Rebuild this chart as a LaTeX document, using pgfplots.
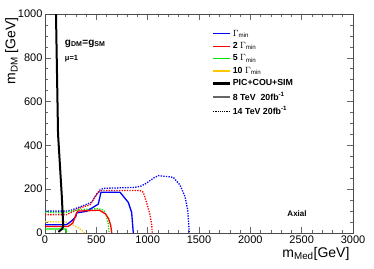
\documentclass[border=0pt]{standalone}
\usepackage{fontspec}
\setmainfont{Liberation Sans}
\usepackage{pgfplots}
\pgfplotsset{compat=1.18}
\definecolor{myyellow}{RGB}{255,200,0}
\definecolor{mygreen}{RGB}{0,230,0}
\begin{document}
\begin{tikzpicture}
\path[use as bounding box] (-45pt,-35pt) rectangle (329pt,233pt);
\begin{axis}[
  at={(0pt,0pt)}, anchor=origin,
  scale only axis, width=308pt, height=219pt,
  xmin=0, xmax=3000, ymin=0, ymax=1000,
  xtick={0,500,...,3000}, ytick={0,200,...,1000},
  minor x tick num=4, minor y tick num=3,
  tick align=inside,
  major tick length=6pt, minor tick length=3pt,
  axis line style={black!70, line width=0.8pt},
  every tick/.style={black!60, line width=0.6pt},
  tick pos=both,
  /pgf/number format/assume math mode=true,
  /pgf/number format/1000 sep={},
  tick label style={font=\fontsize{11}{12}\selectfont},
  xticklabel style={yshift=1pt},
  yticklabel style={xshift=1pt},
  xlabel={m\textsubscript{Med}[GeV]},
  ylabel={m\textsubscript{DM} [GeV]},
  label style={font=\fontsize{14}{15}\selectfont},
  xlabel style={at={(axis description cs:1,0)}, anchor=north east, yshift=-11pt},
  ylabel style={at={(axis description cs:-0.075,1)}, anchor=south east},
  legend style={at={(axis description cs:0.542,0.935)}, anchor=north west, draw=none, fill=none,
     font=\fontsize{8.8}{9.5}\selectfont\bfseries, row sep=1.8pt, inner sep=0pt,
     nodes={inner sep=1.5pt}},
  legend cell align=left,
  legend image code/.code={\draw[#1] plot coordinates {(0pt,0pt) (17pt,0pt)};},
]
% legend entries
\addlegendimage{color=blue, line width=1.4pt}
\addlegendentry{$\Gamma_{\mathrm{min}}$}
\addlegendimage{color=red, line width=1.4pt}
\addlegendentry{2 $\Gamma_{\mathrm{min}}$}
\addlegendimage{color=mygreen, line width=1.4pt}
\addlegendentry{5 $\Gamma_{\mathrm{min}}$}
\addlegendimage{color=myyellow, line width=1.4pt}
\addlegendentry{10 $\Gamma_{\mathrm{min}}$}
\addlegendimage{color=black, line width=2.2pt}
\addlegendentry{PIC+COU+SIM}
\addlegendimage{color=black!60, line width=1.6pt}
\addlegendentry{8 TeV\ \ 20fb\textsuperscript{-1}}
\addlegendimage{color=black, line width=0.8pt, dash pattern=on 1.2pt off 1pt}
\addlegendentry{14 TeV 20fb\textsuperscript{-1}}

% 14 TeV dotted
\addplot[blue, line width=1.3pt, dash pattern=on 1.3pt off 1.3pt, forget plot] coordinates {
(0,100) (210,100) (260,105) (373,125) (455,140) (503,178) (535,196) (568,204) (860,208) (925,212)
(990,228) (1055,250) (1104,262) (1185,258) (1250,254) (1315,219) (1364,166) (1390,105) (1400,40) (1405,0)};
\addplot[red, line width=1.3pt, dash pattern=on 1.3pt off 1.3pt, forget plot] coordinates {
(0,84) (211,84) (260,95) (341,114) (438,129) (519,186) (552,194) (925,194) (958,186)
(990,138) (1023,84) (1040,35) (1045,0)};
\addplot[mygreen, line width=1.3pt, dash pattern=on 1.3pt off 1.3pt, forget plot] coordinates {
(0,96) (180,92) (230,97) (340,107) (520,111) (570,105) (595,82) (615,45) (625,0)};
\addplot[myyellow, line width=1.3pt, dash pattern=on 1.3pt off 1.3pt, forget plot] coordinates {
(0,52) (200,50) (250,42) (310,27) (360,12) (385,0)};
% 8 TeV solid
\addplot[blue, line width=1.3pt, forget plot] coordinates {
(0,38) (210,38) (260,55) (300,75) (309,92) (406,99) (519,132) (545,186) (731,186) (811,140) (844,94) (860,0)};
\addplot[red, line width=1.3pt, forget plot] coordinates {
(0,30) (225,30) (270,45) (295,75) (305,88) (320,100) (530,104) (590,87) (620,65) (640,35) (650,0)};
\addplot[mygreen, line width=1.3pt, forget plot] coordinates {
(0,18) (205,18) (210,0)};
% PIC+COU+SIM
\addplot[black, line width=2pt, forget plot] coordinates {
(107,1000) (127,452) (163,174) (178,30) (165,18) (130,5)};

\node[anchor=west, font=\fontsize{10}{11}\selectfont\bfseries] at (axis cs:160,865) {g\textsubscript{DM}=g\textsubscript{SM}};
\node[anchor=west, font=\fontsize{7.5}{8}\selectfont\bfseries] at (axis cs:160,798) {μ=1};
\node[anchor=center, font=\fontsize{8}{9}\selectfont\bfseries] at (axis cs:2455,87) {Axial};
\end{axis}
\end{tikzpicture}
\end{document}
